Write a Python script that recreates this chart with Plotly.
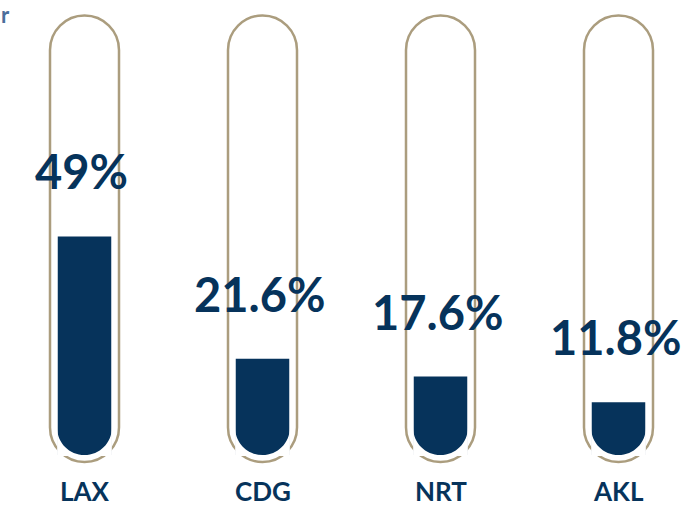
import plotly.graph_objects as go

# Share of travellers by airport
airports = ["LAX", "CDG", "NRT", "AKL"]
shares = [49, 21.6, 17.6, 11.8]
share_labels = ["49%", "21.6%", "17.6%", "11.8%"]

NAVY = "#06335b"
TUBE = "#ab9d7e"
FONT = "Lato"

W, H = 681, 507
slot_px = 178.0          # horizontal distance between tubes
first_px = 84.5          # centre of the first tube
zero_px = 455.0          # pixel row of the 0 % baseline
px_per_unit = 4.46       # vertical pixels per percentage point
bar_px = 53.5            # width of the liquid column

x_range = [-first_px / slot_px, (W - first_px) / slot_px]
y_range = [-(H - zero_px) / px_per_unit, zero_px / px_per_unit]

fig = go.Figure()

# Liquid column
fig.add_trace(go.Bar(
    x=list(range(len(airports))),
    y=shares,
    width=bar_px / slot_px,
    marker=dict(color=NAVY, line=dict(width=0)),
    hoverinfo="skip",
))

K = 0.5523  # cubic bezier constant for a quarter circle

# Test-tube outline in pixel units around each category anchor (positive = up)
r = 34.5
k = K * r
top_c = 405.0
bot_c = 27.5
tube_path = (
    f"M {-r},{bot_c} L {-r},{top_c} "
    f"C {-r},{top_c + k} {-k},{top_c + r} 0,{top_c + r} "
    f"C {k},{top_c + r} {r},{top_c + k} {r},{top_c} "
    f"L {r},{bot_c} "
    f"C {r},{bot_c - k} {k},{bot_c - r} 0,{bot_c - r} "
    f"C {-k},{bot_c - r} {-r},{bot_c - k} {-r},{bot_c} Z"
)

# White corners that turn the flat bottom of each column into a half disc
w = bar_px / 2 + 0.6
kw = K * w
mask_path = (
    f"M {-w},{w} L {-w},-1 L 0,-1 L 0,0 "
    f"C {-kw},0 {-w},{w - kw} {-w},{w} Z "
    f"M {w},{w} L {w},-1 L 0,-1 L 0,0 "
    f"C {kw},0 {w},{w - kw} {w},{w} Z"
)

shapes = []
annotations = []
for i, (name, v, lab) in enumerate(zip(airports, shares, share_labels)):
    shapes.append(dict(
        type="path", xref="x", yref="y",
        xsizemode="pixel", ysizemode="pixel",
        xanchor=i, yanchor=0,
        path=tube_path,
        line=dict(color=TUBE, width=2.5),
        fillcolor="rgba(0,0,0,0)",
        layer="below",
    ))
    shapes.append(dict(
        type="path", xref="x", yref="y",
        xsizemode="pixel", ysizemode="pixel",
        xanchor=i, yanchor=0,
        path=mask_path,
        line=dict(width=0),
        fillcolor="white",
        layer="above",
    ))
    annotations.append(dict(
        x=i, y=v, xref="x", yref="y",
        text=f"<b>{lab}</b>", showarrow=False,
        yanchor="middle", yshift=65, xshift=-3,
        font=dict(family=FONT, size=47, color=NAVY),
    ))
    annotations.append(dict(
        x=i, y=0, xref="x", yref="paper",
        text=f"<b>{name}</b>", showarrow=False,
        yanchor="middle", yshift=16, borderpad=0,
        font=dict(family=FONT, size=26, color=NAVY),
    ))

# Trailing letter of the title in the top-left corner
annotations.append(dict(
    x=0, y=1, xref="paper", yref="paper",
    text="<b>r</b>", showarrow=False,
    xanchor="left", yanchor="top", borderpad=0,
    font=dict(family=FONT, size=22, color="#4b6e9b"),
))

fig.update_layout(
    width=W, height=H,
    margin=dict(l=0, r=0, t=0, b=0),
    paper_bgcolor="white", plot_bgcolor="white",
    showlegend=False,
    xaxis=dict(range=x_range, visible=False, fixedrange=True),
    yaxis=dict(range=y_range, visible=False, fixedrange=True),
    shapes=shapes,
    annotations=annotations,
)

fig.write_html("out.html")
